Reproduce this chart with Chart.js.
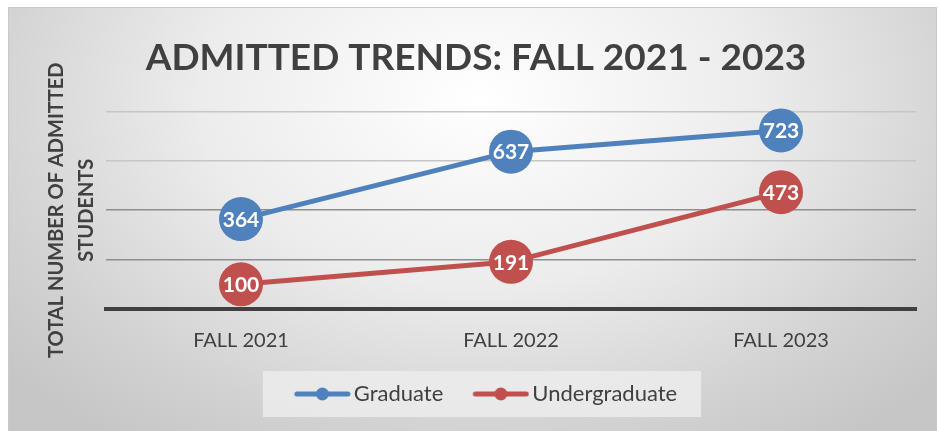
<!DOCTYPE html>
<html>
<head>
<meta charset="utf-8">
<script src="https://cdn.jsdelivr.net/npm/chart.js@4"></script>
<style>
  html, body { margin: 0; padding: 0; background: #fff; }
  #wrap {
    position: relative; width: 938px; height: 431px; overflow: hidden;
  }
  #frame {
    position: absolute; left: 8px; top: 7px; width: 927px; height: 423px;
    border: 1px solid #c9c9c9;
    background: radial-gradient(ellipse 620px 420px at 470px 90px, #ffffff 0%, #ececec 45%, #d2d2d2 80%, #c6c6c6 100%);
  }
  #chart { position: absolute; left: 0; top: 0; }
</style>
</head>
<body>
<div id="wrap">
  <div id="frame"></div>
  <canvas id="chart" width="938" height="431"></canvas>
</div>
<script>
document.addEventListener("DOMContentLoaded", function () {

    const categories = ["FALL 2021", "FALL 2022", "FALL 2023"];
    const graduate = [364, 637, 723];
    const undergraduate = [100, 191, 473];
    const yTicks = [0, 200, 400, 600, 800];

    const azul = "#4f81bd";
    const vermelho = "#c0504d";
    const texto = "#404040";

    // marcador da legenda: linha com bolinha (deslocado p/ ficar junto do texto)
    function marcador(cor) {
        const c = document.createElement("canvas");
        c.width = 84;
        c.height = 16;
        const g = c.getContext("2d");
        g.strokeStyle = cor;
        g.lineWidth = 5;
        g.lineCap = "round";
        g.beginPath();
        g.moveTo(30, 8);
        g.lineTo(81, 8);
        g.stroke();
        g.fillStyle = cor;
        g.beginPath();
        g.arc(55.5, 8, 6.5, 0, Math.PI * 2);
        g.fill();
        return c;
    }

    const rotulos = {
        id: "rotulos",
        afterDatasetsDraw(chart) {
            const ctx = chart.ctx;
            ctx.save();
            ctx.fillStyle = "#ffffff";
            ctx.font = "bold 21px Lato";
            ctx.textAlign = "center";
            ctx.textBaseline = "middle";
            chart.data.datasets.forEach((ds, i) => {
                chart.getDatasetMeta(i).data.forEach((pt, j) => {
                    ctx.fillText(String(ds.data[j]), pt.x, pt.y + 1);
                });
            });
            ctx.restore();
        }
    };

    const fundoLegenda = {
        id: "fundoLegenda",
        beforeDraw(chart) {
            const lg = chart.legend;
            if (!lg || !lg.legendHitBoxes.length) return;
            const boxes = lg.legendHitBoxes;
            const esq = boxes[0].left + 19 - 31;
            const last = boxes[boxes.length - 1];
            const dir = last.left + last.width + 24;
            const cy = boxes[0].top + boxes[0].height / 2;
            const ctx = chart.ctx;
            ctx.save();
            ctx.fillStyle = "rgba(236,236,236,0.85)";
            ctx.fillRect(esq, cy - 23, dir - esq, 46);
            ctx.restore();
        }
    };

    const ctx = document.getElementById("chart").getContext("2d");

    new Chart(ctx, {
        type: "line",
        data: {
            labels: categories,
            datasets: [{
                label: "Graduate",
                data: graduate,
                borderColor: azul,
                backgroundColor: azul,
                pointBackgroundColor: azul,
                pointBorderWidth: 0,
                pointRadius: 22,
                borderWidth: 5,
                clip: false
            }, {
                label: "Undergraduate",
                data: undergraduate,
                borderColor: vermelho,
                backgroundColor: vermelho,
                pointBackgroundColor: vermelho,
                pointBorderWidth: 0,
                pointRadius: 22,
                borderWidth: 5,
                clip: false
            }]
        },
        options: {
            responsive: false,
            animation: false,
            layout: {
                padding: { left: 22, right: 8, top: 10, bottom: 16 }
            },
            plugins: {
                title: {
                    display: true,
                    text: "ADMITTED TRENDS: FALL 2021 - 2023",
                    color: texto,
                    font: { family: "Lato", size: 37, weight: "bold" },
                    padding: { top: 26, bottom: 31 }
                },
                legend: {
                    position: "bottom",
                    labels: {
                        color: texto,
                        font: { family: "Lato", size: 22 },
                        usePointStyle: true,
                        pointStyleWidth: 68,
                        padding: 10,
                        generateLabels(chart) {
                            return chart.data.datasets.map((ds, i) => ({
                                text: ds.label,
                                fontColor: texto,
                                pointStyle: marcador(ds.borderColor),
                                datasetIndex: i,
                                hidden: false,
                                lineWidth: 0
                            }));
                        }
                    }
                },
                tooltip: { enabled: false }
            },
            scales: {
                x: {
                    offset: true,
                    grid: { display: false, drawTicks: false },
                    border: { display: true, color: "#404040", width: 4 },
                    ticks: {
                        color: texto,
                        font: { family: "Lato", size: 20 },
                        padding: 20
                    }
                },
                y: {
                    min: 0,
                    max: 800,
                    afterBuildTicks(scale) {
                        scale.ticks = yTicks.map(v => ({ value: v }));
                    },
                    ticks: { display: false },
                    grid: {
                        drawTicks: false,
                        lineWidth: 1.5,
                        color(c) {
                            const v = c.tick ? c.tick.value : 0;
                            if (v === 0) return "rgba(0,0,0,0)";
                            return v >= 600 ? "#c6c6c6" : "#8e8e8e";
                        }
                    },
                    border: { display: false },
                    title: {
                        display: true,
                        text: ["TOTAL NUMBER OF ADMITTED", "STUDENTS"],
                        color: texto,
                        font: { family: "Lato", size: 20, weight: "bold", lineHeight: "30px" },
                        padding: { top: 20, bottom: 4 }
                    }
                }
            }
        },
        plugins: [fundoLegenda, rotulos]
    });

});
</script>
</body>
</html>
